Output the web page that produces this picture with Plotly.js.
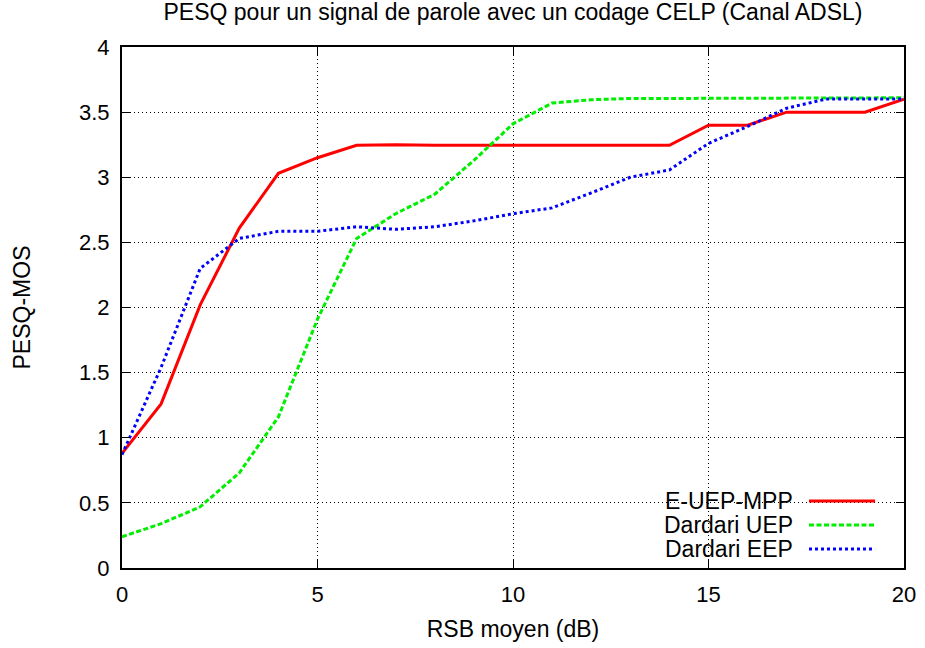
<!DOCTYPE html>
<html>
<head>
<meta charset="utf-8">
<script src="https://cdn.plot.ly/plotly-3.0.1.min.js"></script>
<style>html,body{margin:0;padding:0;background:#fff;}#chart{width:925px;height:648px;}</style>
</head>
<body>
<div id="chart"></div>
<script>
const snr = [0,1,2,3,4,5,6,7,8,9,10,11,12,13,14,15,16,17,18,19,20];
const eUepMpp = [0.88,1.26,2.02,2.61,3.03,3.15,3.245,3.25,3.245,3.245,3.245,3.245,3.245,3.245,3.245,3.40,3.40,3.50,3.50,3.50,3.60];
const dardariUep = [0.24,0.34,0.47,0.73,1.16,1.91,2.53,2.72,2.87,3.13,3.41,3.57,3.595,3.605,3.605,3.605,3.605,3.605,3.605,3.605,3.61];
const dardariEep = [0.87,1.54,2.30,2.53,2.585,2.585,2.62,2.60,2.62,2.665,2.72,2.765,2.88,3.00,3.056,3.26,3.39,3.53,3.60,3.60,3.60];
const seriesNames = ["E-UEP-MPP","Dardari UEP","Dardari EEP"];
const xTickVals = [0,5,10,15,20];
const xTickText = ["0","5","10","15","20"];
const yTickVals = [0,0.5,1,1.5,2,2.5,3,3.5,4];
const yTickText = ["0","0.5","1","1.5","2","2.5","3","3.5","4"];

const styles = [
  {color:"#ff0000", dash:"solid"},
  {color:"#00ee00", dash:"5px,2.5px"},
  {color:"#0000ff", dash:"3px,3px"}
];
const ys = [eUepMpp, dardariUep, dardariEep];
const FONT = "Liberation Sans, Arial, sans-serif";

const traces = ys.map((y,i)=>({
  x: snr, y: y, type:"scatter", mode:"lines", name: seriesNames[i],
  line:{color:styles[i].color, width:3, dash:styles[i].dash},
  showlegend:false
}));

// legend drawn gnuplot-style: text then sample to the right
const legY = [0.1286, 0.0825, 0.0365];
const annotations = seriesNames.map((n,i)=>({
  xref:"paper", yref:"paper", x:0.8606, y:legY[i], xanchor:"right", yanchor:"middle",
  text:n, showarrow:false, font:{family:FONT, size:23, color:"#000"}
}));
const shapes = seriesNames.map((n,i)=>({
  type:"line", xref:"paper", yref:"paper", x0:0.8785, x1:0.963, y0:legY[i], y1:legY[i],
  line:{color:styles[i].color, width:3, dash:styles[i].dash}
}));

const axisCommon = {
  showline:true, linecolor:"#000", linewidth:2, mirror:"allticks",
  ticks:"inside", ticklen:8, tickcolor:"#000", tickwidth:1,
  showgrid:true, gridcolor:"#000", griddash:"1px,3px", gridwidth:1,
  zeroline:false, tickfont:{family:FONT, size:22, color:"#000"}
};

const layout = {
  width:925, height:648,
  margin:{l:122, r:21, t:47, b:80},
  paper_bgcolor:"#fff", plot_bgcolor:"#fff",
  title:{text:"PESQ pour un signal de parole avec un codage CELP (Canal ADSL)",
    font:{family:FONT, size:23, color:"#000"}, x:0.5, xref:"paper", xanchor:"center",
    y:1, yref:"container", yanchor:"top", pad:{t:4, b:0, l:0, r:0}},
  xaxis:Object.assign({}, axisCommon, {range:[0,20], tickvals:xTickVals, ticktext:xTickText,
    ticklabelstandoff:6,
    title:{text:"RSB moyen (dB)", font:{family:FONT, size:23, color:"#000"}, standoff:14}}),
  yaxis:Object.assign({}, axisCommon, {range:[0,4], tickvals:yTickVals, ticktext:yTickText,
    ticklabelstandoff:6,
    title:{text:"PESQ-MOS", font:{family:FONT, size:23, color:"#000"}, standoff:42}}),
  annotations:annotations, shapes:shapes
};

Plotly.newPlot("chart", traces, layout, {displayModeBar:false, staticPlot:true});
</script>
</body>
</html>
